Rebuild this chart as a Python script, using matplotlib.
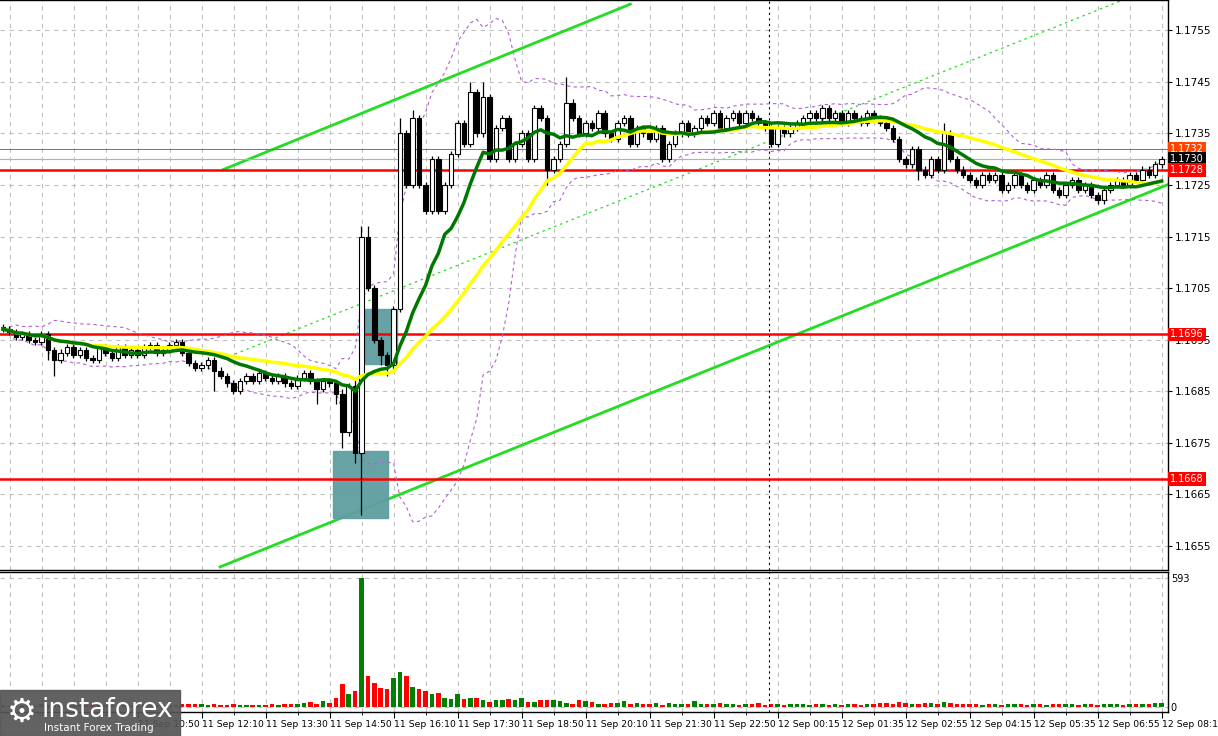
import numpy as np
import pandas as pd
import matplotlib
matplotlib.use("Agg")
import matplotlib.pyplot as plt
from matplotlib.patches import Rectangle

# closing prices, one per bar
closes = [
    1.16970, 1.16965, 1.16955, 1.16960, 1.16950, 1.16945, 1.16960, 1.16930, 1.16910, 1.16925,
    1.16935, 1.16920, 1.16930, 1.16915, 1.16910, 1.16935, 1.16925, 1.16915, 1.16935, 1.16920,
    1.16930, 1.16920, 1.16935, 1.16940, 1.16925, 1.16930, 1.16940, 1.16945, 1.16925, 1.16905,
    1.16895, 1.16900, 1.16910, 1.16890, 1.16880, 1.16865, 1.16850, 1.16870, 1.16880, 1.16870,
    1.16885, 1.16875, 1.16870, 1.16880, 1.16865, 1.16860, 1.16875, 1.16885, 1.16870, 1.16855,
    1.16870, 1.16865, 1.16845, 1.16770, 1.16860, 1.16730, 1.17150, 1.17050, 1.16950, 1.16920,
    1.16900, 1.17010, 1.17350, 1.17250, 1.17380, 1.17250, 1.17200, 1.17300, 1.17200, 1.17250,
    1.17310, 1.17370, 1.17330, 1.17430, 1.17350, 1.17420, 1.17300, 1.17360, 1.17380, 1.17300,
    1.17330, 1.17350, 1.17300, 1.17400, 1.17380, 1.17280, 1.17300, 1.17330, 1.17410, 1.17380,
    1.17350, 1.17370, 1.17360, 1.17390, 1.17350, 1.17340, 1.17370, 1.17380, 1.17330, 1.17360,
    1.17350, 1.17340, 1.17360, 1.17300, 1.17330, 1.17350, 1.17370, 1.17350, 1.17360, 1.17380,
    1.17370, 1.17390, 1.17360, 1.17380, 1.17390, 1.17370, 1.17390, 1.17380, 1.17370, 1.17360,
    1.17330, 1.17360, 1.17350, 1.17360, 1.17370, 1.17380, 1.17390, 1.17380, 1.17400, 1.17380,
    1.17390, 1.17370, 1.17390, 1.17380, 1.17370, 1.17390, 1.17380, 1.17370, 1.17360, 1.17340,
    1.17300, 1.17290, 1.17320, 1.17280, 1.17270, 1.17300, 1.17280, 1.17350, 1.17300, 1.17280,
    1.17270, 1.17260, 1.17250, 1.17270, 1.17260, 1.17270, 1.17240, 1.17250, 1.17270, 1.17250,
    1.17240, 1.17260, 1.17250, 1.17270, 1.17240, 1.17230, 1.17250, 1.17260, 1.17240, 1.17250,
    1.17230, 1.17220, 1.17240, 1.17250, 1.17260, 1.17250, 1.17270, 1.17260, 1.17280, 1.17270,
    1.17290, 1.17300,
]
first_open = 1.16975
# extra wick beyond body, in pips (only notable ones; others get a small default)
wick_high = {53: 1.0, 55: 1.5, 56: 2, 57: 2, 62: 3, 64: 1.5, 73: 2, 75: 3, 88: 5, 147: 2}
wick_low = {7: 2, 8: 3, 33: 4, 49: 3, 52: 2, 53: 3, 55: 2, 56: 12, 59: 2, 60: 2, 85: 3, 143: 2}

volumes = [
    8, 6, 10, 7, 9, 6, 12, 10, 14, 8, 9, 7, 10, 8, 12, 9, 7, 10, 8, 9,
    10, 7, 12, 9, 8, 11, 9, 7, 14, 16, 12, 13, 10, 14, 9, 8, 12, 10, 9, 11,
    10, 8, 12, 11, 13, 15, 12, 18, 22, 15, 28, 20, 40, 104, 60, 72, 593, 142, 110, 88,
    82, 132, 160, 141, 91, 84, 76, 60, 64, 40, 35, 60, 35, 42, 42, 32, 25, 34, 32, 36,
    30, 40, 25, 22, 30, 32, 32, 28, 20, 16, 32, 26, 22, 16, 12, 20, 20, 26, 14, 18,
    16, 12, 18, 10, 20, 12, 16, 14, 28, 12, 12, 14, 18, 12, 16, 10, 14, 12, 18, 10,
    14, 12, 10, 16, 14, 12, 10, 14, 12, 8, 12, 10, 14, 12, 10, 16, 12, 18, 20, 16,
    22, 18, 16, 14, 20, 18, 16, 24, 18, 14, 16, 12, 14, 10, 12, 14, 10, 12, 16, 12,
    10, 14, 12, 10, 16, 12, 14, 12, 10, 12, 14, 10, 12, 14, 12, 10, 14, 12, 16, 14,
    18, 20,
]

price_ticks = [1.1655, 1.1665, 1.1675, 1.1685, 1.1695, 1.1705, 1.1715, 1.1725, 1.1735, 1.1745, 1.1755]
time_labels = ["11 Sep 10:50", "11 Sep 12:10", "11 Sep 13:30", "11 Sep 14:50", "11 Sep 16:10",
               "11 Sep 17:30", "11 Sep 18:50", "11 Sep 20:10", "11 Sep 21:30", "11 Sep 22:50",
               "12 Sep 00:15", "12 Sep 01:35", "12 Sep 02:55", "12 Sep 04:15", "12 Sep 05:35",
               "12 Sep 06:55", "12 Sep 08:15"]
levels_red = [1.1728, 1.1696, 1.1668]
level_ask = 1.1732
last_price = 1.1730

# drawn objects: (bar index, price) endpoints
channel_upper = [(34.4, 1.1728), (98.0, 1.17601)]
channel_lower = [(33.9, 1.16509), (183.6, 1.17259)]
channel_mid = [(34.4, 1.16913), (179.2, 1.17630)]
boxes = [(51.6, 1.16603, 8.6, 0.00130), (56.6, 1.16903, 5.0, 0.00107)]

n = len(closes)
idx = np.arange(n)
opens = [first_open] + closes[:-1]
pip = 0.0001
highs = [max(o, c) + wick_high.get(i, 0.6) * pip for i, (o, c) in enumerate(zip(opens, closes))]
lows = [min(o, c) - wick_low.get(i, 0.6) * pip for i, (o, c) in enumerate(zip(opens, closes))]

s = pd.Series(closes)
ma_fast = s.rolling(14, min_periods=1).mean()
ma_slow = s.rolling(30, min_periods=1).mean()
bb_mid = s.rolling(20, min_periods=1).mean()
bb_std = s.rolling(20, min_periods=1).std().fillna(0)

fig = plt.figure(figsize=(12.18, 7.36), dpi=100)
ax = fig.add_axes([0.0, 0.2255, 0.959, 0.7745])
axv = fig.add_axes([0.0, 0.0326, 0.959, 0.190])

xlim = (-0.47, 182.0)
for a in (ax, axv):
    a.set_xlim(*xlim)
    a.grid(True, color="#c0c0c0", linestyle=(0, (4, 4)), linewidth=0.8)
    a.set_axisbelow(True)
    a.yaxis.tick_right()
    for sp in a.spines.values():
        sp.set_color("black")
        sp.set_linewidth(1)
    a.spines["left"].set_visible(False)

ax.set_ylim(1.16503, 1.17609)
ax.set_yticks(price_ticks)
ax.set_yticklabels([f"{p:.4f}" for p in price_ticks], fontsize=7.5)
grid_x = np.arange(xlim[0] + 10 / 6.4, xlim[1], 5)
ax.set_xticks(grid_x)
ax.set_xticklabels([])
ax.tick_params(axis="x", length=0)
ax.tick_params(axis="y", length=3, pad=2)

# channel and drawn lines
for seg, kw in ((channel_upper, dict(color="#22dd22", lw=2)),
                (channel_lower, dict(color="#22dd22", lw=2)),
                (channel_mid, dict(color="#22dd22", lw=0.9, ls=(0, (2, 3))))):
    ax.plot([seg[0][0], seg[1][0]], [seg[0][1], seg[1][1]], **kw)

for bx, by, bw, bh in boxes:
    ax.add_patch(Rectangle((bx, by), bw, bh, color="#5f9ea0", alpha=0.95, zorder=2))

for lv in levels_red:
    ax.axhline(lv, color="#ff0000", lw=1.8, zorder=3)
ax.axhline(level_ask, color="#ff4500", lw=0.7, zorder=3)
ax.axhline(last_price, color="#b0b0b0", lw=0.8, zorder=3)
ax.axvline(119.7, color="black", lw=0.8, ls=(0, (2, 3)))
axv.axvline(119.7, color="black", lw=0.8, ls=(0, (2, 3)))

ax.plot(idx, bb_mid + 2 * bb_std, color="#b060d0", lw=0.8, ls=(0, (3, 3)), zorder=3)
ax.plot(idx, bb_mid - 2 * bb_std, color="#b060d0", lw=0.8, ls=(0, (3, 3)), zorder=3)

# candles
for i in range(n):
    o, c = opens[i], closes[i]
    ax.vlines(i, lows[i], highs[i], color="black", lw=0.9, zorder=4)
    bottom, h = min(o, c), max(abs(c - o), 0.00002)
    ax.add_patch(Rectangle((i - 0.35, bottom), 0.7, h, facecolor="white" if c >= o else "black",
                           edgecolor="black", lw=0.8, zorder=5))

ax.plot(idx, ma_slow, color="#ffff00", lw=2.5, zorder=6)
ax.plot(idx, ma_fast, color="#007700", lw=2.5, zorder=7)

# right-axis price boxes
def price_tag(y, text, bg, fg="white"):
    ax.text(1.002, y, text, transform=ax.get_yaxis_transform(), fontsize=7, color=fg,
            va="center", ha="left", bbox=dict(boxstyle="square,pad=0.2", fc=bg, ec="none"))

price_tag(level_ask, "1.1732", "#ff4500")
price_tag(last_price, "1.1730", "black")
for lv in levels_red:
    price_tag(lv, f"{lv:.4f}", "#ff0000")

# volume panel
vcolors = ["#008000" if closes[i] >= opens[i] else "#ff0000" for i in range(n)]
axv.bar(idx, volumes, width=0.7, color=vcolors)
axv.set_ylim(-23, 621)
axv.set_yticks([0, 593])
axv.set_yticklabels(["0", "593"], fontsize=7)
tick_pos = [xlim[0] + (138 + 64 * k) / 6.4 for k in range(len(time_labels))]
axv.set_xticks(tick_pos)
axv.set_xticklabels(time_labels, fontsize=6.7, ha="left")
axv.set_xticks(grid_x, minor=True)
axv.grid(True, which="minor", axis="x", color="#c0c0c0", linestyle=(0, (4, 4)), linewidth=0.8)
axv.tick_params(axis="x", length=4, pad=2)
axv.tick_params(axis="y", length=0, pad=2)

# watermark
fig.patches.append(Rectangle((0, 0), 180 / 1218, 46 / 736, transform=fig.transFigure,
                             color="#555555", alpha=0.92, zorder=10))
fig.text(0.034, 0.036, "instaforex", fontsize=19, color="white", zorder=11, va="center")
fig.text(0.036, 0.011, "Instant Forex Trading", fontsize=7.5, color="white", zorder=11, va="center")
fig.text(0.006, 0.032, "\u2699", fontsize=24, color="white", zorder=11, va="center")

fig.savefig("out.png", dpi=100)
